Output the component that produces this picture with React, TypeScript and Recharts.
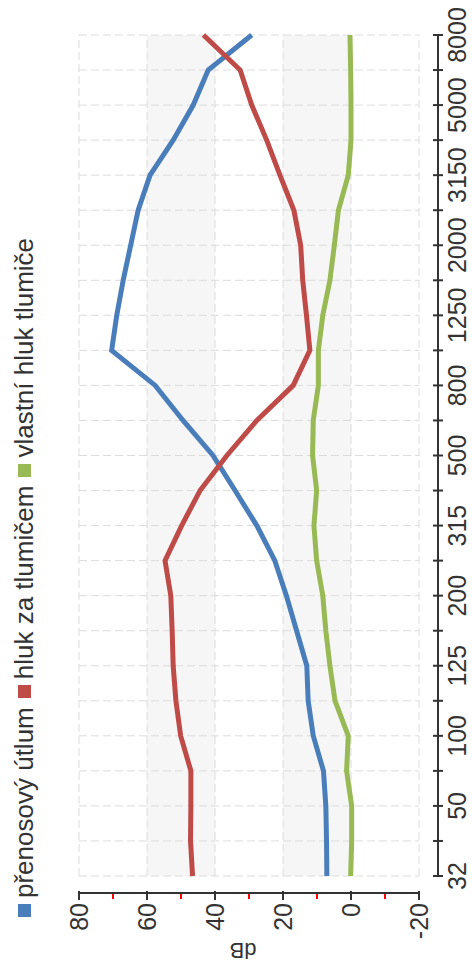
import React from 'react';
import { LineChart, Line, XAxis, YAxis, CartesianGrid } from 'recharts';

// frequency bands (Hz) - only every other one is labelled
const freqs = [
  '32', '40', '50', '63', '100', '112', '125', '160', '200', '250', '315', '400', '500',
  '630', '800', '1000', '1250', '1600', '2000', '2500', '3150', '4000', '5000', '6300', '8000',
];
const prenosovyUtlum = [
  7.1, 7.2, 7.4, 8.1, 11.1, 12.6, 13, 16, 19, 22.4, 27.7, 34.1, 40.6,
  49.4, 57.6, 70.4, 68.9, 67, 64.8, 62.6, 59.1, 52.3, 46.4, 42, 29.2,
];
const hlukZaTlumicem = [
  46.6, 47.2, 47.1, 47.1, 50.1, 51.5, 52.3, 52.6, 53, 54.7, 49.8, 44.4, 36.5,
  27.7, 17, 12.1, 13.1, 14.2, 14.8, 16.8, 20.9, 24.8, 29.2, 32.6, 43.4,
];
const vlastniHluk = [
  0.1, -0.2, -0.2, 1.3, 0.8, 4.7, 6.2, 7.4, 8.3, 10.1, 10.9, 10.1, 11.3,
  11.1, 9.6, 9.6, 8.3, 6.2, 4.9, 3.7, 0.8, 0, 0, 0.1, 0.3,
];
const valueTicks = [-20, -10, 0, 10, 20, 30, 40, 50, 60, 70, 80];
const gridValues = [-20, 0, 20, 40, 60, 80];

const series = [
  { key: 'utlum', name: 'přenosový útlum', color: '#4a7ebb', values: prenosovyUtlum },
  { key: 'hluk', name: 'hluk za tlumičem', color: '#be4b48', values: hlukZaTlumicem },
  { key: 'vlastni', name: 'vlastní hluk tlumiče', color: '#98b954', values: vlastniHluk },
];

const data = freqs.map((f, i) => ({
  freq: f,
  utlum: prenosovyUtlum[i],
  hluk: hlukZaTlumicem[i],
  vlastni: vlastniHluk[i],
}));

const FONT = '"Liberation Sans", Arial, sans-serif';
const TEXT = '#333';

// axes sit a little away from the plot, so the plot box is set on the grid
// and the axis lines are cut short with a dash pattern
const PLOT = { x: 86, y: 79, width: 841, height: 340 };
const GAP_X = 17;
const GAP_Y = 19;

function ValueTick({ x, y, payload }: any) {
  if (payload.value % 20 !== 0) {
    return <line x1={x - 6} x2={x - 1} y1={y} y2={y} stroke="#ff0000" strokeWidth={2} />;
  }
  return (
    <g>
      <line x1={x - 7} x2={x + 2} y1={y} y2={y} stroke={TEXT} strokeWidth={2} />
      <text x={x - 10} y={y} textAnchor="end" dominantBaseline="central" fontFamily={FONT} fontSize={25} fill={TEXT}>
        {payload.value}
      </text>
    </g>
  );
}

function FreqTick({ x, y, payload, index }: any) {
  return (
    <g>
      <line x1={x} x2={x} y1={y - 5} y2={y + 5} stroke={TEXT} strokeWidth={2} />
      {index % 2 === 0 && (
        <text x={x} y={y + 28} textAnchor="middle" fontFamily={FONT} fontSize={25} fill={TEXT}>
          {payload.value}
        </text>
      )}
    </g>
  );
}

function DbLabel({ viewBox }: any) {
  const x = viewBox.x + 12;
  const y = viewBox.y + PLOT.height / 2 - 6;
  return (
    <text x={x} y={y} transform={`rotate(-90, ${x}, ${y})`} textAnchor="middle" dominantBaseline="central"
      fontFamily={FONT} fontSize={22} fill={TEXT}>
      dB
    </text>
  );
}

export default function App() {
  return (
    <div style={{ position: 'absolute', left: 0, top: 0, width: 472, height: 962, overflow: 'hidden', background: '#fff' }}>
      {/* chart is drawn landscape and turned a quarter counter-clockwise */}
      <div
        style={{
          position: 'absolute', left: 0, top: 0, width: 962, height: 472,
          transformOrigin: '0 0', transform: 'translate(0px, 962px) rotate(-90deg)',
        }}
      >
        <div style={{ position: 'absolute', left: 45, top: 11, display: 'flex', alignItems: 'center', fontFamily: FONT, fontSize: 26, color: TEXT, whiteSpace: 'nowrap', lineHeight: '26px' }}>
          {series.map((s) => (
            <div key={s.key} style={{ display: 'flex', alignItems: 'center', marginRight: 9 }}>
              <span style={{ width: 13, height: 13, background: s.color, marginRight: 6, display: 'inline-block' }} />
              <span>{s.name}</span>
            </div>
          ))}
        </div>
        <LineChart width={962} height={472} data={data} margin={{ top: PLOT.y, right: 962 - PLOT.x - PLOT.width, left: 0, bottom: 0 }}>
          <CartesianGrid
            x={PLOT.x}
            y={PLOT.y}
            width={PLOT.width}
            height={PLOT.height}
            stroke="#dcdcdc"
            strokeDasharray="8 4"
            horizontalValues={gridValues}
            horizontalFill={['#ffffff', '#f6f6f6']}
          />
          <XAxis
            dataKey="freq"
            interval={0}
            padding={{ left: GAP_X, right: 0 }}
            tickSize={0}
            tickMargin={0}
            height={472 - PLOT.y - PLOT.height - GAP_Y}
            axisLine={{ stroke: TEXT, strokeWidth: 2, strokeDasharray: `0 ${GAP_X} ${PLOT.width} 2000` }}
            tickLine={false}
            tick={<FreqTick />}
          />
          <YAxis
            type="number"
            domain={[-20, 80]}
            ticks={valueTicks}
            interval={0}
            padding={{ top: 0, bottom: GAP_Y }}
            width={PLOT.x - GAP_X}
            tickSize={0}
            tickMargin={0}
            axisLine={{ stroke: TEXT, strokeWidth: 2, strokeDasharray: `${PLOT.height} 2000` }}
            tickLine={false}
            tick={<ValueTick />}
            label={<DbLabel />}
          />
          {series.map((s) => (
            <Line
              key={s.key}
              type="linear"
              dataKey={s.key}
              name={s.name}
              stroke={s.color}
              strokeWidth={5}
              dot={false}
              isAnimationActive={false}
            />
          ))}
        </LineChart>
      </div>
    </div>
  );
}
